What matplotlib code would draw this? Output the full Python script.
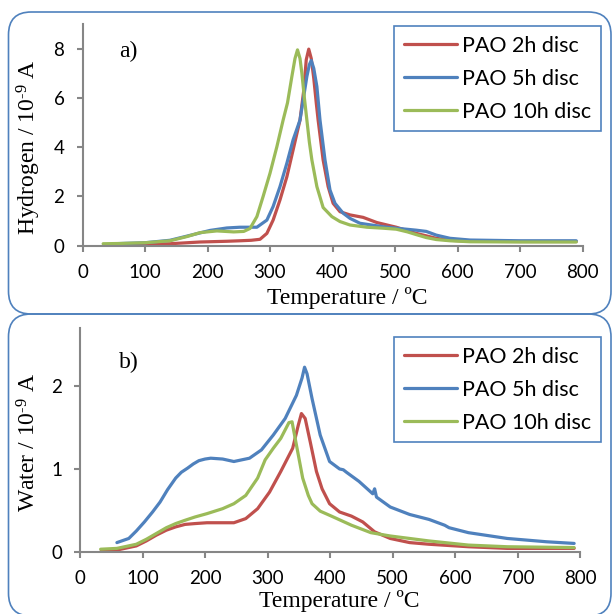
import matplotlib
matplotlib.use("Agg")
import matplotlib.pyplot as plt
from matplotlib.patches import FancyBboxPatch

# ---- data -------------------------------------------------------------
series_names = ["PAO 2h disc", "PAO 5h disc", "PAO 10h disc"]
series_colors = ["#C0504D", "#4F81BD", "#9BBB59"]

# Hydrogen signal (10^-9 A) vs temperature (degC)
h2_2h_T = [38, 60, 100, 140, 188, 231, 252, 270, 284, 295, 305, 316, 327, 337, 348,
           354, 358, 362, 366, 370, 374, 377, 385, 393, 401, 412, 428, 449, 471, 502,
           534, 566, 588, 620, 700, 790]
h2_2h_v = [0.03, 0.04, 0.05, 0.08, 0.15, 0.18, 0.2, 0.22, 0.26, 0.5, 1.04, 1.86, 2.8,
           3.89, 5.1, 6.3, 7.55, 7.98, 7.6, 6.8, 5.8, 5.1, 3.48, 2.4, 1.72, 1.38, 1.25,
           1.15, 0.94, 0.75, 0.5, 0.3, 0.22, 0.18, 0.17, 0.17]

h2_5h_T = [50, 100, 140, 177, 204, 231, 252, 279, 295, 305, 316, 327, 337, 348, 359,
           363, 366, 370, 375, 380, 388, 396, 404, 417, 428, 444, 481, 502, 534, 550,
           566, 588, 620, 700, 790]
h2_5h_v = [0.08, 0.12, 0.22, 0.45, 0.62, 0.72, 0.75, 0.75, 1.04, 1.59, 2.4, 3.35, 4.3,
           5.1, 6.87, 7.35, 7.52, 7.2, 6.46, 5.1, 3.48, 2.26, 1.72, 1.32, 1.11, 0.91,
           0.77, 0.71, 0.63, 0.58, 0.43, 0.3, 0.23, 0.2, 0.2]

h2_10h_T = [33, 60, 100, 140, 167, 188, 215, 242, 258, 268, 279, 289, 300, 311, 321,
            328, 335, 340, 344, 348, 351, 355, 359, 363, 367, 375, 385, 399, 412, 428,
            455, 481, 502, 520, 534, 550, 566, 588, 620, 700, 790]
h2_10h_v = [0.08, 0.09, 0.12, 0.2, 0.37, 0.53, 0.6, 0.56, 0.58, 0.7, 1.18, 2.0, 2.94,
            4.02, 5.1, 5.8, 6.87, 7.6, 7.95, 7.6, 7.0, 6.0, 5.1, 4.2, 3.48, 2.4, 1.55,
            1.18, 0.98, 0.84, 0.75, 0.71, 0.67, 0.56, 0.45, 0.33, 0.25, 0.2, 0.16,
            0.15, 0.15]

# Water signal (10^-9 A) vs temperature (degC)
w_2h_T = [34, 59, 90, 106, 122, 138, 153, 168, 184, 203, 228, 246, 265, 284, 303, 321,
          340, 349, 354, 360, 368, 378, 387, 399, 415, 434, 452, 471, 496, 527, 558,
          621, 683, 790]
w_2h_v = [0.01, 0.02, 0.07, 0.13, 0.2, 0.26, 0.3, 0.33, 0.34, 0.35, 0.35, 0.35, 0.4,
          0.52, 0.72, 0.97, 1.25, 1.53, 1.67, 1.61, 1.33, 0.97, 0.76, 0.58, 0.48, 0.43,
          0.36, 0.24, 0.16, 0.11, 0.09, 0.06, 0.04, 0.04]

w_5h_T = [59, 78, 90, 103, 116, 128, 140, 153, 162, 172, 181, 190, 200, 209, 228, 246,
          271, 290, 309, 328, 346, 355, 359, 363, 371, 384, 399, 415, 421, 426, 446,
          468, 471, 474, 496, 527, 558, 583, 590, 621, 683, 746, 790]
w_5h_v = [0.11, 0.16, 0.25, 0.36, 0.48, 0.6, 0.75, 0.89, 0.96, 1.01, 1.06, 1.1, 1.12,
          1.13, 1.12, 1.09, 1.13, 1.23, 1.41, 1.61, 1.89, 2.1, 2.23, 2.15, 1.85, 1.41,
          1.09, 1.0, 0.99, 0.96, 0.85, 0.7, 0.76, 0.66, 0.54, 0.45, 0.39, 0.32, 0.29,
          0.23, 0.16, 0.12, 0.1]

w_10h_T = [33, 59, 90, 106, 122, 138, 153, 168, 184, 203, 228, 246, 265, 284, 296, 309,
           321, 334, 339, 346, 356, 365, 371, 384, 402, 434, 465, 496, 558, 621, 683,
           790]
w_10h_v = [0.03, 0.04, 0.09, 0.15, 0.22, 0.29, 0.34, 0.38, 0.42, 0.46, 0.52, 0.58,
           0.68, 0.89, 1.11, 1.25, 1.37, 1.56, 1.57, 1.29, 0.89, 0.68, 0.58, 0.49, 0.43,
           0.32, 0.23, 0.19, 0.13, 0.08, 0.06, 0.05]

x_ticks = [0, 100, 200, 300, 400, 500, 600, 700, 800]
h2_ticks = [0, 2, 4, 6, 8]
w_ticks = [0, 1, 2]

# ---- style ------------------------------------------------------------
plt.rcParams["mathtext.default"] = "regular"
SERIF = "Liberation Serif"
SANS = "Lato"
AXIS_GREY = "#868686"
FRAME_BLUE = "#4F81BD"

fig = plt.figure(figsize=(6.12, 6.14), dpi=100)
W, H = 612.0, 614.0

def px_rect(x0, y0, x1, y1):
    """Convert a pixel box (top-left origin) to figure fractions."""
    return [x0 / W, 1 - y1 / H, (x1 - x0) / W, (y1 - y0) / H]

# rounded chart frames
for (x0, y0, x1, y1) in [(8.5, 12, 611, 314), (8.5, 314, 611, 616)]:
    l, b, w, h = px_rect(x0, y0, x1, y1)
    box = FancyBboxPatch((l, b), w, h, boxstyle="round,pad=0,rounding_size=0.037",
                         transform=fig.transFigure, facecolor="none",
                         edgecolor=FRAME_BLUE, linewidth=1.2, zorder=0)
    fig.add_artist(box)

ax_top = fig.add_axes(px_rect(82.5, 24, 582.5, 245.7))
ax_bot = fig.add_axes(px_rect(80, 328.3, 580.4, 551.7))

panels = [
    (ax_top, [(h2_2h_T, h2_2h_v), (h2_5h_T, h2_5h_v), (h2_10h_T, h2_10h_v)],
     (0, 9), h2_ticks, "Hydrogen / 10$^{\u20109}$ A", "a)",
     (0.529, -0.236), (-0.107, 0.445), (0.073, 0.874), (601, 26)),
    (ax_bot, [(w_2h_T, w_2h_v), (w_5h_T, w_5h_v), (w_10h_T, w_10h_v)],
     (0, 2.7), w_ticks, "Water / 10$^{\u20109}$ A", "b)",
     (0.519, -0.221), (-0.102, 0.487), (0.078, 0.847), (601, 337)),
]

for ax, curves, ylim, yticks, ylabel, tag, xl_pos, yl_pos, tag_pos, leg_pos in panels:
    for (T, v), name, col in zip(curves, series_names, series_colors):
        ax.plot(T, v, color=col, lw=2.3, label=name, solid_joinstyle="round",
                solid_capstyle="round")
    ax.set_xlim(0, 800)
    ax.set_ylim(*ylim)
    ax.set_xticks(x_ticks)
    ax.set_yticks(yticks)
    ax.patch.set_visible(False)
    for s in ("top", "right"):
        ax.spines[s].set_visible(False)
    for s in ("left", "bottom"):
        ax.spines[s].set_color(AXIS_GREY)
        ax.spines[s].set_linewidth(1.5)
    ax.tick_params(direction="out", length=4.5, width=1.5, color=AXIS_GREY,
                   labelsize=13.5)
    ax.tick_params(axis="x", pad=9)
    ax.tick_params(axis="y", pad=8.5)
    for lab in ax.get_xticklabels() + ax.get_yticklabels():
        lab.set_fontfamily(SANS)

    ax.set_xlabel("Temperature / ºC", fontfamily=SERIF, fontsize=17, va="center")
    ax.xaxis.set_label_coords(*xl_pos)
    ax.set_ylabel(ylabel, fontfamily=SERIF, fontsize=17, va="center", ha="center")
    ax.yaxis.set_label_coords(*yl_pos)

    ax.text(tag_pos[0], tag_pos[1], tag, transform=ax.transAxes, fontfamily=SERIF,
            fontsize=17, va="center", ha="left")

    leg = ax.legend(loc="upper right", bbox_to_anchor=(leg_pos[0] / W, 1 - leg_pos[1] / H),
                    bbox_transform=fig.transFigure, borderaxespad=0, fancybox=False,
                    framealpha=1, edgecolor=FRAME_BLUE, prop={"family": SANS, "size": 15.5},
                    handlelength=2.45, handletextpad=0.25, labelspacing=0.6,
                    borderpad=0.45)
    leg.get_frame().set_linewidth(1.2)
    for line in leg.get_lines():
        line.set_linewidth(2.3)

fig.savefig("out.png", dpi=100)
